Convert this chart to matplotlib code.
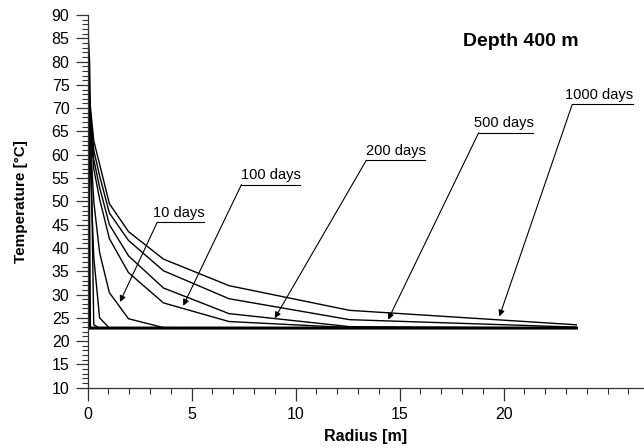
import matplotlib
matplotlib.use("Agg")
import matplotlib.pyplot as plt
from matplotlib.ticker import FixedLocator, MultipleLocator

plt.rcParams['font.family'] = ['Liberation Sans', 'DejaVu Sans']

# Radial grid nodes [m]
radius = [0.0, 0.1, 0.3, 0.58, 1.05, 1.97, 3.65, 6.8, 12.6, 23.5]

# Temperature profiles [°C] at the nodes
t_initial = [88.0, 22.8, 22.8, 22.8, 22.8, 22.8, 22.8, 22.8, 22.8, 22.8]
t_short_a = [88.0, 80.0, 23.5, 22.8, 22.8, 22.8, 22.8, 22.8, 22.8, 22.8]
t_short_b = [88.0, 62.0, 38.0, 25.0, 22.8, 22.8, 22.8, 22.8, 22.8, 22.8]
t_10d = [88.0, 66.0, 50.0, 39.0, 30.4, 24.8, 22.9, 22.8, 22.8, 22.8]
t_100d = [88.0, 69.0, 57.0, 50.5, 42.0, 34.7, 28.2, 24.2, 22.9, 22.8]
t_200d = [88.0, 70.0, 59.0, 53.0, 45.0, 38.3, 31.4, 25.9, 23.1, 22.8]
t_500d = [88.0, 71.0, 61.0, 55.5, 47.5, 41.6, 35.1, 29.1, 24.6, 23.0]
t_1000d = [88.0, 72.0, 63.0, 58.0, 49.5, 43.5, 37.6, 31.9, 26.6, 23.5]

labels = ["10 days", "100 days", "200 days", "500 days", "1000 days"]
# arrow tip (on curve), underline start and end, all in data units
tips = [(1.56, 28.4), (4.6, 27.6), (9.0, 24.9), (14.45, 24.6), (19.8, 25.3)]
line_y = [45.5, 53.6, 58.8, 64.7, 70.8]
line_x0 = [3.35, 7.4, 13.4, 18.8, 23.3]
line_x1 = [5.6, 10.2, 16.2, 21.4, 26.2]

fig = plt.figure(figsize=(6.44, 4.48), dpi=100)
ax = fig.add_axes([0.1359, 0.1346, 0.8641, 0.832])

ax.plot(radius, t_initial, color='black', lw=2.2, solid_joinstyle='miter')
for t in (t_short_a, t_short_b, t_10d, t_100d, t_200d, t_500d, t_1000d):
    ax.plot(radius, t, color='black', lw=1.0)

for lab, tip, y, x0, x1 in zip(labels, tips, line_y, line_x0, line_x1):
    ax.plot([x0, x1], [y, y], color='black', lw=0.8)
    ax.annotate('', xy=tip, xytext=(x0, y),
                arrowprops=dict(arrowstyle='-|>', color='black', lw=0.8,
                                mutation_scale=9, shrinkA=0, shrinkB=0))
    ax.text(x1 + 0.05, y + 0.6, lab, ha='right', va='bottom', fontsize=10.5)

ax.text(20.84, 84.4, "Depth 400 m", ha='center', va='center',
        fontsize=14, fontweight='bold')

ax.set_xlim(0, 26.75)
ax.set_ylim(10, 90)
ax.xaxis.set_major_locator(FixedLocator([0, 5, 10, 15, 20]))
ax.xaxis.set_minor_locator(FixedLocator([i for i in range(1, 27) if i % 5 != 0 or i > 20]))
ax.yaxis.set_major_locator(MultipleLocator(5))
ax.yaxis.set_minor_locator(MultipleLocator(1))

for s in ('top', 'right'):
    ax.spines[s].set_visible(False)
for s in ('left', 'bottom'):
    ax.spines[s].set_linewidth(0.9)
    ax.spines[s].set_color('#333333')

ax.tick_params(which='major', direction='out', length=9, width=0.9,
               labelsize=11.5, color='#333333')
ax.tick_params(axis='x', which='major', pad=5)
ax.tick_params(axis='y', which='major', pad=4)
ax.tick_params(which='minor', direction='out', length=4.5, width=0.8,
               color='#333333')

ax.set_xlabel("Radius [m]", fontsize=11.5, fontweight='bold', labelpad=5)
ax.set_ylabel("Temperature [°C]", fontsize=11, fontweight='bold', labelpad=17)

fig.savefig("out.png", dpi=100)
